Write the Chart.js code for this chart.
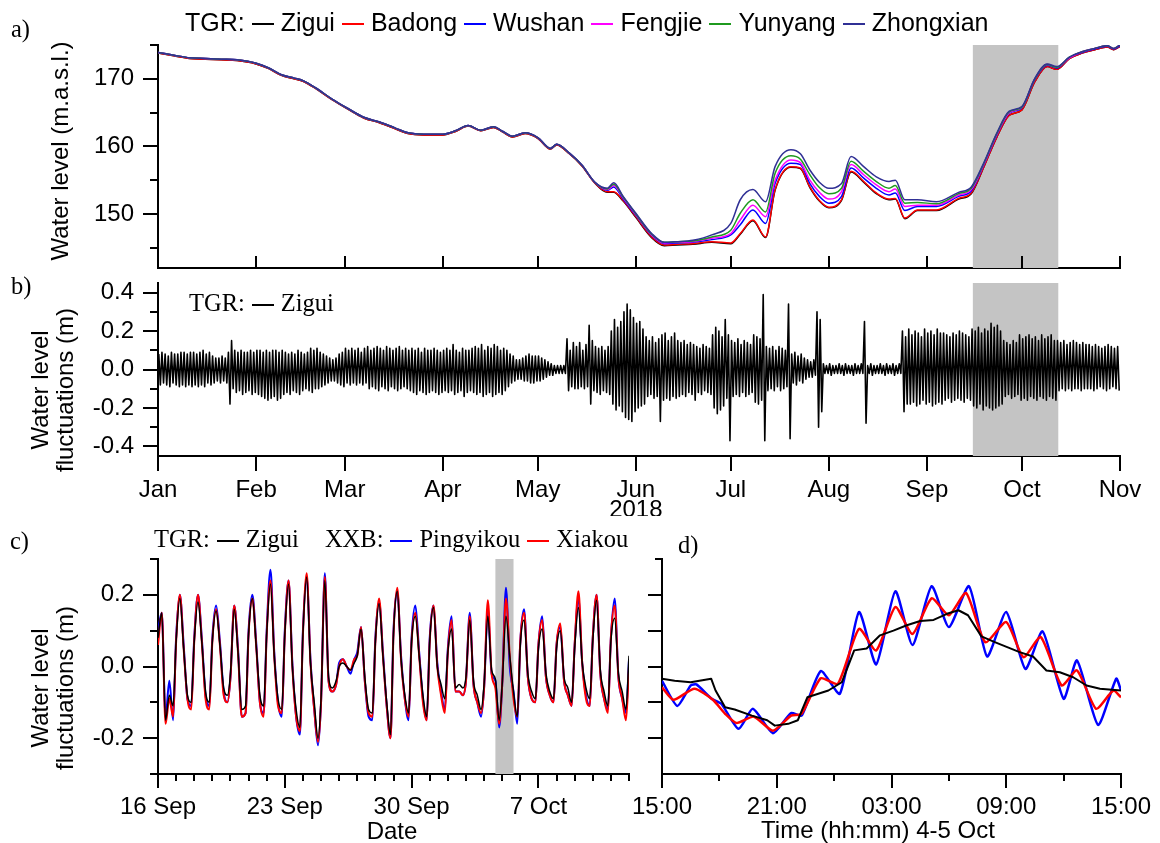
<!DOCTYPE html>
<html lang="en">
<head>
<meta charset="UTF-8" />
<title>TGR and XXB water levels 2018</title>
<script src="https://cdn.jsdelivr.net/npm/chart.js@4.4.1/dist/chart.umd.min.js"></script>
<style>
  body { margin: 0; background: #fff; }
  #page { position: relative; width: 1160px; height: 843px; background: #fff; overflow: hidden; }
  #page canvas { position: absolute; left: 0; top: 0; }
  .txt { position: absolute; white-space: nowrap; line-height: 1; color: #000; }
  .serif { font-family: "Liberation Serif", "Times New Roman", serif; font-size: 24.5px; }
  .sans { font-family: "Liberation Sans", Arial, sans-serif; font-size: 24px; }
  .vert { transform: translate(-50%, -50%) rotate(-90deg); text-align: center; line-height: 25px; }
  .mid { transform: translate(-50%, -50%); }
  .key { display: inline-block; width: 22px; border-top: 2px solid; vertical-align: middle; margin: 0 7px; }
</style>
</head>
<body>
<div id="page">
  <canvas id="levels" width="1300" height="843"></canvas>
  <canvas id="yearFluct" width="1300" height="843"></canvas>
  <canvas id="monthFluct" width="1300" height="843"></canvas>
  <canvas id="dayFluct" width="1300" height="843"></canvas>

  <div class="txt serif" style="left:11px;top:17px">a)</div>
  <div class="txt serif" style="left:11px;top:274px">b)</div>
  <div class="txt serif" style="left:10px;top:529px">c)</div>
  <div class="txt serif" style="left:678px;top:533px">d)</div>

  <div id="legendA" class="txt sans" style="left:185px;top:10px;font-size:25px"></div>
  <div id="legendB" class="txt serif" style="left:189px;top:291px"></div>
  <div id="legendC" class="txt serif" style="left:154px;top:527px"></div>

  <div class="txt sans vert" style="left:59px;top:151px">Water level (m.a.s.l.)</div>
  <div class="txt sans vert" style="left:52px;top:390px">Water level<br>fluctuations (m)</div>
  <div class="txt sans vert" style="left:52px;top:688px">Water level<br>fluctuations (m)</div>
  <div class="txt sans mid" style="left:392px;top:831px">Date</div>
  <div class="txt sans mid" style="left:878px;top:830px">Time (hh:mm) 4-5 Oct</div>
</div>

<script>
// ---- a) daily water level along the reservoir, days since 1 Jan 2018 ----
const levelDays = [0,5,10,15,20,25,31,35,39,43,46,50,55,60,65,70,75,79,84,90,94,98,102,106,
  109,112,116,120,124,126,130,134,138,142,144,147,151,156,160,164,169,175,181,184,188,192,195,200,
  203,206,209,212,216,219,223,227,231,233,236,240,246,253,257,261,265,269,273,277,281,284,288,292,
  296,300,302,304];

// drawdown until mid May, where the upstream gauges still overlap
const drawdownUpper = [173.9,173.5,173.1,173.0,172.9,172.8,172.3,171.6,170.6,170.1,169.7,168.6,
  167.0,165.6,164.3,163.6,162.7,162.0,161.8,161.8,162.3,163.1,162.4,162.9,162.2,161.5,162.0,161.3,
  159.7,160.3,159.0,157.2,154.7];
const drawdownLower = [173.8,173.4,173.0,172.9,172.8,172.7,172.2,171.5,170.5,170.0,169.6,168.5,
  166.9,165.5,164.2,163.5,162.6,161.9,161.7,161.7,162.2,163.0,162.3,162.8,162.1,161.4,161.9,161.2,
  159.6,160.2,158.9,157.1,154.6];

const zhongxian = drawdownUpper.concat([153.8,154.6,152.6,150.1,147.1,145.8,145.9,146.1,146.9,
  148.6,152.1,153.6,151.8,157.0,159.5,158.9,156.5,154.7,153.8,154.5,158.5,157.0,155.5,154.8,155.0,
  152.1,152.1,151.8,153.2,154.0,157.6,161.9,165.2,165.9,170.0,172.2,171.8,173.2,174.0,174.5,174.9,
  174.5,175.0]);
const yunyang = drawdownUpper.concat([153.7,154.4,152.5,150.0,147.0,145.8,145.9,146.0,146.6,
  147.6,150.1,152.1,150.3,156.0,158.6,158.1,155.8,153.9,153.0,153.8,157.8,156.3,154.8,153.8,154.2,
  151.6,151.7,151.5,153.0,153.8,157.5,161.8,165.1,165.8,169.9,172.1,171.7,173.2,174.0,174.5,174.9,
  174.5,175.0]);
const fengjie = drawdownUpper.concat([153.6,154.2,152.4,149.9,146.9,145.7,145.8,145.9,146.4,
  147.1,149.1,151.3,149.6,155.0,158.0,157.6,155.0,153.2,152.2,153.3,157.3,155.8,154.3,153.3,153.7,
  151.1,151.3,151.3,152.8,153.6,157.4,161.7,165.0,165.8,169.9,172.1,171.7,173.1,174.0,174.5,174.9,
  174.5,175.0]);
const wushan = drawdownUpper.concat([153.5,154.0,152.2,149.8,146.8,145.6,145.7,145.8,146.2,
  146.9,148.4,150.6,148.6,154.5,157.5,157.3,154.5,152.6,151.6,152.6,156.8,155.3,153.8,152.8,153.1,
  150.5,151.1,151.1,152.6,153.4,157.3,161.6,164.9,165.7,169.8,172.0,171.6,173.1,173.9,174.4,174.8,
  174.4,174.9]);
const badong = drawdownLower.concat([153.3,153.3,152.0,149.6,146.6,145.4,145.5,145.6,145.9,
  145.7,147.1,149.1,146.6,153.6,157.0,156.8,154.0,152.0,151.0,152.1,156.3,154.8,153.1,152.2,152.3,
  149.4,150.6,150.6,152.3,153.1,157.0,161.3,164.6,165.4,169.5,171.8,171.4,173.0,173.8,174.3,174.7,
  174.3,174.8]);
const zigui = drawdownLower.concat([153.2,153.2,151.9,149.5,146.5,145.3,145.4,145.5,145.8,
  145.6,147.0,149.0,146.5,153.5,156.9,156.7,153.9,151.9,150.9,152.0,156.2,154.7,153.0,152.1,152.2,
  149.3,150.5,150.5,152.2,153.0,157.0,161.3,164.6,165.4,169.5,171.8,171.4,173.0,173.8,174.3,174.7,
  174.3,174.8]);

const stationNames = ['Zigui', 'Badong', 'Wushan', 'Fengjie', 'Yunyang', 'Zhongxian'];
const stationColors = ['#000000', '#ff0000', '#0000ff', '#ff00ff', '#1f9a1f', '#303095'];
const stationLevels = [zigui, badong, wushan, fengjie, yunyang, zhongxian];

// ---- b) Zigui daily extremes of the fluctuation (cm), one line per month ----
const ziguiDailyHighCm = [
  8,9,8,7,9,8,8,9,9,8,9,9,8,9,10,8,9,7,6,6,7,6,9,15,10,9,10,9,9,10,9,
  10,10,9,10,9,10,10,9,10,9,8,9,8,10,9,8,9,11,10,11,9,8,7,6,5,6,8,9,
  11,10,11,10,11,9,11,12,10,11,12,11,10,12,11,10,11,12,10,11,10,11,10,11,9,11,10,10,11,10,9,
  10,11,10,13,10,9,11,10,10,11,12,11,13,10,12,11,13,12,10,11,10,8,7,5,5,6,7,8,7,7,
  7,6,5,4,3,2,2,2,2,16,10,14,12,14,10,13,23,15,12,11,12,10,12,20,26,22,25,30,34,31,27,
  24,25,21,17,15,17,14,16,18,19,15,17,19,15,14,15,13,14,13,12,11,13,12,11,18,22,20,17,26,18,
  15,14,16,13,15,14,13,18,17,16,39,12,11,12,10,12,11,10,34,8,9,7,8,6,5,4,5,30,26,3,2,
  3,2,2,3,2,3,2,2,3,2,3,25,2,3,2,2,3,2,3,2,3,2,3,20,17,21,18,20,19,17,21,
  19,20,18,21,19,19,18,17,19,18,20,19,18,17,21,20,22,19,21,20,24,22,23,20,15,14,13,15,14,18,
  16,17,18,16,17,15,18,16,17,18,15,15,14,15,13,14,15,14,13,14,13,13,12,13,12,11,12,13,12,11,12
];
const ziguiDailyLowCm = [
  -8,-7,-8,-9,-7,-8,-9,-8,-9,-8,-9,-8,-9,-8,-9,-7,-8,-7,-6,-7,-6,-7,-18,-10,-12,-11,-13,-12,-11,-13,-12,
  -13,-14,-15,-16,-15,-14,-16,-15,-13,-12,-13,-11,-12,-13,-11,-10,-11,-12,-10,-10,-9,-8,-7,-6,-6,-7,-8,-9,
  -7,-8,-7,-8,-7,-8,-7,-10,-9,-10,-11,-9,-10,-11,-9,-10,-11,-10,-9,-10,-11,-12,-13,-11,-12,-13,-12,-11,-12,-13,-12,
  -11,-12,-11,-13,-12,-11,-14,-12,-11,-12,-13,-12,-14,-13,-12,-14,-13,-12,-13,-11,-9,-7,-6,-5,-5,-6,-6,-7,-7,-6,
  -6,-5,-4,-3,-3,-2,-2,-2,-2,-11,-9,-10,-10,-9,-10,-9,-18,-11,-12,-13,-11,-12,-13,-18,-21,-19,-22,-25,-26,-27,-22,
  -20,-19,-18,-14,-13,-15,-14,-27,-16,-15,-16,-14,-15,-14,-13,-14,-12,-13,-16,-12,-13,-11,-12,-13,-20,-23,-21,-19,-15,-37,
  -14,-13,-14,-12,-14,-13,-12,-17,-18,-16,-37,-11,-10,-11,-9,-11,-10,-9,-36,-7,-8,-6,-7,-5,-4,-4,-3,-30,-22,-2,-2,
  -3,-2,-2,-2,-3,-2,-2,-3,-2,-2,-2,-28,-2,-3,-2,-2,-2,-3,-2,-2,-3,-2,-2,-22,-18,-18,-17,-19,-18,-16,-18,
  -17,-19,-18,-17,-18,-16,-15,-17,-16,-15,-16,-17,-15,-16,-19,-20,-18,-21,-19,-20,-21,-20,-19,-18,-14,-13,-15,-14,-13,-16,
  -15,-16,-14,-15,-16,-14,-15,-16,-14,-15,-16,-11,-10,-11,-10,-11,-10,-10,-11,-10,-10,-10,-11,-10,-9,-10,-11,-10,-9,-10,-11
];

const monthStartDays = [0, 31, 59, 90, 120, 151, 181, 212, 243, 273, 304];
const monthLabels = ['Jan', 'Feb', 'Mar', 'Apr', 'May', ['Jun', '2018'], 'Jul', 'Aug', 'Sep', 'Oct', 'Nov'];
const zoomWindowDays = [257.5, 284.5];

// ---- c) 16 Sep - 12 Oct, readings per day at these hours ----
const cPhaseHours = [0, 5, 10, 15, 20];
const ziguiSep = [
  [0.08,0.15,-0.15,-0.08,-0.11], [0.07,0.19,0.05,-0.08,-0.10], [0.07,0.18,0.07,-0.07,-0.10],
  [0.07,0.155,0.06,-0.06,-0.08], [-0.02,0.16,0.04,-0.12,-0.11], [0.09,0.19,0.06,-0.08,-0.11],
  [0.09,0.23,0.03,-0.09,-0.12], [0.09,0.23,0.00,-0.12,-0.17], [0.09,0.25,0.01,-0.10,-0.20],
  [-0.09,0.24,-0.03,-0.06,-0.04], [0.00,0.01,0.00,-0.01,0.01], [0.03,0.105,-0.03,-0.12,-0.13],
  [0.07,0.175,0.03,-0.10,-0.19], [0.09,0.21,0.02,-0.08,-0.13], [0.07,0.14,0.03,-0.08,-0.14],
  [0.07,0.165,0.00,-0.05,-0.09], [0.04,0.105,-0.06,-0.05,-0.06], [-0.03,0.13,-0.04,-0.08,-0.12],
  [-0.05,0.14,-0.01,-0.035,-0.15], [-0.05,0.14,0.03,-0.07,-0.14], [0.06,0.13,-0.02,-0.07,-0.09],
  [0.05,0.105,-0.02,-0.07,-0.09], [0.05,0.10,-0.03,-0.06,-0.10], [0.05,0.165,0.01,-0.06,-0.09],
  [0.07,0.185,-0.01,-0.07,-0.11], [0.07,0.135,-0.02,-0.07,-0.12]
];
const pingyikouSep = [
  [0.10,0.15,-0.14,-0.04,-0.15], [0.08,0.20,0.06,-0.09,-0.11], [0.08,0.20,0.08,-0.08,-0.11],
  [0.08,0.17,0.07,-0.07,-0.10], [-0.03,0.17,0.05,-0.14,-0.13], [0.10,0.20,0.07,-0.10,-0.13],
  [0.10,0.27,0.04,-0.10,-0.14], [0.10,0.24,0.01,-0.14,-0.19], [0.10,0.25,0.02,-0.12,-0.22],
  [-0.10,0.26,-0.04,-0.07,-0.05], [0.01,0.02,0.00,-0.02,0.02], [0.04,0.11,-0.04,-0.14,-0.15],
  [0.08,0.18,0.04,-0.11,-0.20], [0.10,0.21,0.03,-0.09,-0.15], [0.08,0.17,0.04,-0.09,-0.15],
  [0.08,0.17,0.01,-0.07,-0.12], [0.05,0.14,-0.07,-0.07,-0.08], [-0.04,0.15,-0.05,-0.10,-0.14],
  [-0.06,0.16,-0.02,-0.04,-0.17], [-0.05,0.22,0.00,-0.07,-0.16], [0.07,0.16,-0.03,-0.09,-0.10],
  [0.06,0.14,-0.03,-0.08,-0.10], [0.06,0.11,-0.04,-0.08,-0.11], [0.06,0.19,0.01,-0.08,-0.11],
  [0.08,0.20,-0.02,-0.09,-0.12], [0.08,0.19,-0.03,-0.09,-0.13]
];
const xiakouSep = [
  [0.06,0.15,-0.16,-0.09,-0.14], [0.07,0.20,0.05,-0.09,-0.12], [0.07,0.20,0.07,-0.09,-0.12],
  [0.07,0.16,0.06,-0.08,-0.10], [-0.03,0.17,0.04,-0.14,-0.13], [0.09,0.19,0.06,-0.10,-0.14],
  [0.09,0.24,0.03,-0.11,-0.13], [0.09,0.24,0.00,-0.14,-0.18], [0.09,0.26,0.01,-0.12,-0.21],
  [-0.10,0.25,-0.04,-0.07,-0.05], [0.00,0.02,0.00,-0.01,0.02], [0.03,0.11,-0.04,-0.13,-0.14],
  [0.07,0.19,0.03,-0.11,-0.20], [0.09,0.22,0.02,-0.09,-0.14], [0.07,0.15,0.03,-0.10,-0.15],
  [0.07,0.17,0.00,-0.08,-0.13], [0.04,0.13,-0.07,-0.07,-0.08], [-0.04,0.14,-0.05,-0.10,-0.13],
  [-0.06,0.185,-0.02,-0.06,-0.16], [-0.05,0.19,0.03,-0.09,-0.14], [0.07,0.15,-0.03,-0.09,-0.10],
  [0.06,0.13,-0.03,-0.08,-0.10], [0.06,0.12,-0.04,-0.08,-0.11], [0.06,0.21,0.01,-0.09,-0.11],
  [0.08,0.20,-0.02,-0.09,-0.13], [0.08,0.17,-0.03,-0.09,-0.15]
];
const ziguiSepEnd = 0.03, pingyikouSepEnd = 0.02, xiakouSepEnd = 0.0;
const sepDayTicks = [0, 7, 14, 21];
const sepDayLabels = ['16 Sep', '23 Sep', '30 Sep', '7 Oct'];
const zoomWindowSep = [18.625, 19.625];

// ---- d) 4 Oct 15:00 to 5 Oct 15:00, [hours after 15:00, m] ----
const ziguiOct = [[0,-0.034],[0.66,-0.04],[1.5,-0.044],[2.57,-0.034],[2.8,-0.067],[3.3,-0.114],
  [3.8,-0.12],[4.7,-0.137],[5.5,-0.15],[5.9,-0.165],[6.6,-0.16],[7.1,-0.15],[7.6,-0.086],[8.7,-0.067],
  [9.4,-0.044],[10.05,0.045],[10.7,0.05],[11.4,0.087],[12.1,0.1],[12.8,0.115],[13.5,0.127],[14.2,0.13],
  [14.9,0.147],[15.5,0.157],[16.0,0.143],[16.7,0.084],[17.4,0.068],[18.05,0.054],[18.7,0.04],
  [19.4,0.028],[20.1,-0.011],[20.8,-0.016],[21.5,-0.03],[22.2,-0.053],[22.9,-0.062],[24,-0.067]];
const pingyikouOct = [[0,-0.04],[0.8,-0.11],[1.5,-0.053],[1.8,-0.05],[2.6,-0.09],[3.1,-0.104],
  [4.0,-0.174],[4.75,-0.118],[5.8,-0.186],[6.75,-0.13],[7.3,-0.137],[8.3,-0.013],[9.3,-0.076],
  [10.3,0.152],[11.2,0.006],[12.2,0.21],[13.1,0.06],[14.1,0.224],[15.0,0.11],[16.05,0.224],
  [17.0,0.028],[18.0,0.152],[19.0,-0.007],[19.9,0.098],[21.0,-0.09],[21.7,0.017],[22.8,-0.163],
  [23.75,-0.034],[24,-0.067]];
const xiakouOct = [[0,-0.058],[0.6,-0.093],[1.7,-0.062],[2.66,-0.093],[3.3,-0.132],[3.9,-0.158],
  [4.8,-0.14],[5.8,-0.179],[6.75,-0.137],[7.3,-0.132],[8.3,-0.033],[9.2,-0.048],[10.3,0.105],
  [11.2,0.045],[12.2,0.166],[13.1,0.091],[14.1,0.19],[15.0,0.143],[15.9,0.205],[16.9,0.068],
  [18.0,0.124],[18.9,0.026],[19.8,0.082],[20.9,-0.053],[21.7,-0.011],[22.7,-0.118],[23.6,-0.067],
  [24,-0.086]];
const hourTicks = [0, 6, 12, 18, 24];
const hourLabels = ['15:00', '21:00', '03:00', '09:00', '15:00'];

// ---------------------------------------------------------------------------
// canvases are wider than the page so edge tick labels never push the plot in
const CANVAS_W = 1300, CANVAS_H = 843, Y_BOX = 100, X_BOX = 60;
const SANS = '"Liberation Sans", Arial, sans-serif';
Chart.defaults.font.family = SANS;
Chart.defaults.font.size = 24;
Chart.defaults.color = '#000';

// curve: 'monotone' for smooth level curves, a number for bezier tension, else straight
function line(label, data, color, width, order, curve) {
  return { label, data, borderColor: color, borderWidth: width, pointRadius: 0,
    borderJoinStyle: 'round', fill: false, order,
    cubicInterpolationMode: curve === 'monotone' ? 'monotone' : 'default',
    tension: typeof curve === 'number' ? curve : 0 };
}

function xAxis(min, max, values, labels, pad) {
  return {
    type: 'linear', min, max,
    afterBuildTicks: s => { s.ticks = values.map(v => ({ value: v })); },
    afterFit: s => { s.height = X_BOX; },
    grid: { display: false, drawTicks: false },
    border: { display: true, color: '#000', width: 2 },
    ticks: { display: !!labels, autoSkip: false, maxRotation: 0, padding: pad,
      font: { size: 24, lineHeight: 0.85 }, callback: (v, i) => labels ? labels[i] : '' }
  };
}

function yAxis(min, max, values, labels) {
  return {
    type: 'linear', min, max,
    afterBuildTicks: s => { s.ticks = values.map(v => ({ value: v })); },
    afterFit: s => { s.width = Y_BOX; },
    grid: { display: false, drawTicks: false },
    border: { display: true, color: '#000', width: 2 },
    ticks: { display: !!labels, autoSkip: false, padding: 24,
      callback: (v, i) => labels ? labels[i] : '' }
  };
}

// grey zoom window behind the lines
function shade(range) {
  return {
    id: 'shade',
    beforeDatasetsDraw(chart) {
      const { ctx, chartArea, scales: { x } } = chart;
      const x0 = x.getPixelForValue(range[0]), x1 = x.getPixelForValue(range[1]);
      ctx.save();
      ctx.fillStyle = '#c4c4c4';
      ctx.fillRect(x0, chartArea.top, x1 - x0, chartArea.bottom - chartArea.top);
      ctx.restore();
    }
  };
}

// major/minor tick marks of different length, x ticks may point inwards
function tickMarks(spec) {
  return {
    id: 'tickMarks',
    afterDraw(chart) {
      const ctx = chart.ctx;
      ctx.save();
      ctx.strokeStyle = '#000';
      ctx.lineWidth = 2;
      for (const id of ['x', 'y']) {
        const s = spec[id], scale = chart.scales[id];
        const groups = [[s.major, s.majorLen], [s.minor || [], s.minorLen]];
        for (const [vals, len] of groups) {
          for (const v of vals) {
            const p = Math.round(scale.getPixelForValue(v));
            ctx.beginPath();
            if (id === 'x') {
              const y0 = chart.chartArea.bottom;
              ctx.moveTo(p, y0);
              ctx.lineTo(p, y0 + (s.inward ? -len : len));
            } else {
              const x0 = chart.chartArea.left;
              ctx.moveTo(x0, p);
              ctx.lineTo(x0 - len, p);
            }
            ctx.stroke();
          }
        }
      }
      ctx.restore();
    }
  };
}

function panel(id, area, datasets, x, y, plugins) {
  return new Chart(document.getElementById(id), {
    type: 'line',
    data: { datasets },
    options: {
      responsive: false, animation: false, devicePixelRatio: 1,
      layout: { padding: { left: area.left - Y_BOX, top: area.top,
        right: CANVAS_W - area.right, bottom: CANVAS_H - area.bottom - X_BOX } },
      scales: { x, y },
      plugins: { legend: { display: false }, tooltip: { enabled: false } }
    },
    plugins
  });
}

const toPoints = (xs, ys) => xs.map((d, i) => ({ x: d, y: ys[i] }));
const pairPoints = pairs => pairs.map(([h, v]) => ({ x: h, y: v }));

function dailyPoints(days, endValue) {
  const pts = [];
  days.forEach((vals, d) => vals.forEach((v, k) => pts.push({ x: d + cPhaseHours[k] / 24, y: v })));
  pts.push({ x: days.length, y: endValue });
  return pts;
}

// a) water level
panel('levels', { left: 158, top: 45, right: 1120, bottom: 268 },
  stationLevels.map((vals, i) => line(stationNames[i], toPoints(levelDays, vals),
    stationColors[i], 1.5, stationNames.length - 1 - i, 'monotone')),
  xAxis(0, 304, monthStartDays, null, 0),
  yAxis(142, 175, [150, 160, 170], ['150', '160', '170']),
  [shade(zoomWindowDays), tickMarks({
    x: { major: monthStartDays, majorLen: 12, inward: true },
    y: { major: [150, 160, 170], majorLen: 15, minor: [145, 155, 165, 175], minorLen: 8 }
  })]);

// b) fluctuations at Zigui for the whole period
const fluctPoints = [];
ziguiDailyHighCm.forEach((hi, d) => {
  fluctPoints.push({ x: d + 0.25, y: hi / 100 });
  fluctPoints.push({ x: d + 0.75, y: ziguiDailyLowCm[d] / 100 });
});
panel('yearFluct', { left: 158, top: 283, right: 1120, bottom: 456 },
  [line('Zigui', fluctPoints, '#000', 1.6, 0, null)],
  xAxis(0, 304, monthStartDays, monthLabels, 24),
  yAxis(-0.45, 0.45, [-0.4, -0.2, 0, 0.2, 0.4], ['-0.4', '-0.2', '0.0', '0.2', '0.4']),
  [shade(zoomWindowDays), tickMarks({
    x: { major: monthStartDays, majorLen: 15 },
    y: { major: [-0.4, -0.2, 0, 0.2, 0.4], majorLen: 15, minor: [-0.3, -0.1, 0.1, 0.3], minorLen: 8 }
  })]);

// c) TGR vs XXB, 16 Sep - 12 Oct
const sepMinor = [];
for (let d = 1; d <= 26; d++) if (!sepDayTicks.includes(d)) sepMinor.push(d);
panel('monthFluct', { left: 158, top: 559, right: 629, bottom: 774 },
  [line('Zigui', dailyPoints(ziguiSep, ziguiSepEnd), '#000', 1.5, 0, 'monotone'),
   line('Xiakou', dailyPoints(xiakouSep, xiakouSepEnd), '#ff0000', 2, 1, 'monotone'),
   line('Pingyikou', dailyPoints(pingyikouSep, pingyikouSepEnd), '#0000ff', 2, 2, 'monotone')],
  xAxis(0, 26, sepDayTicks, sepDayLabels, 23),
  yAxis(-0.3, 0.3, [-0.2, 0, 0.2], ['-0.2', '0.0', '0.2']),
  [shade(zoomWindowSep), tickMarks({
    x: { major: sepDayTicks, majorLen: 14, minor: sepMinor, minorLen: 7 },
    y: { major: [-0.2, 0, 0.2], majorLen: 15, minor: [-0.3, -0.1, 0.1, 0.3], minorLen: 8 }
  })]);

// d) one day inside the grey window
panel('dayFluct', { left: 662, top: 559, right: 1121, bottom: 774 },
  [line('Zigui', pairPoints(ziguiOct), '#000', 2, 0, null),
   line('Xiakou', pairPoints(xiakouOct), '#ff0000', 2.5, 1, 0.2),
   line('Pingyikou', pairPoints(pingyikouOct), '#0000ff', 2.5, 2, 0.2)],
  xAxis(0, 24, hourTicks, hourLabels, 23),
  yAxis(-0.3, 0.3, [-0.2, -0.1, 0, 0.1, 0.2], null),
  [tickMarks({
    x: { major: hourTicks, majorLen: 14, minor: [3, 9, 15, 21], minorLen: 7 },
    y: { major: [-0.2, -0.1, 0, 0.1, 0.2], majorLen: 14, minor: [0.3], minorLen: 7 }
  })]);

// legends
function legendHtml(prefix, names, colors) {
  return prefix + names.map((n, i) =>
    '<span class="key" style="border-top-color:' + colors[i] + '"></span>' + n).join('');
}
document.getElementById('legendA').innerHTML = legendHtml('TGR:', stationNames, stationColors);
document.getElementById('legendB').innerHTML = legendHtml('TGR:', ['Zigui'], ['#000']);
document.getElementById('legendC').innerHTML = legendHtml('TGR:', ['Zigui'], ['#000']) +
  '<span style="margin-left:26px">' + legendHtml('XXB:', ['Pingyikou', 'Xiakou'], ['#0000ff', '#ff0000']) + '</span>';
</script>
</body>
</html>
